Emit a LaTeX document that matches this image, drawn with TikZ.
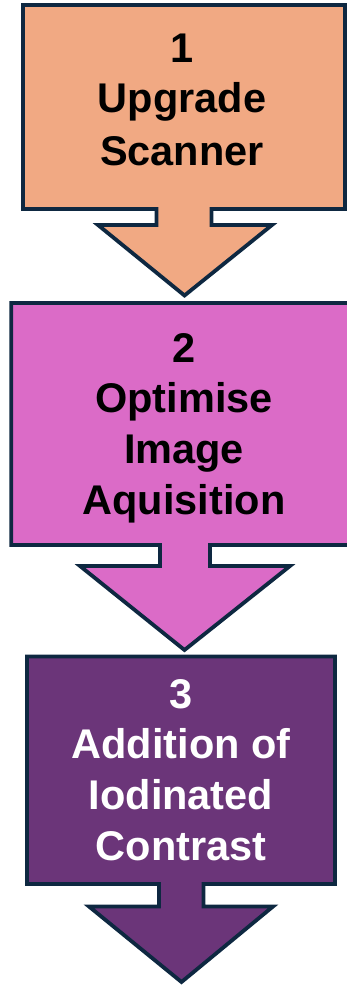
\documentclass[tikz,border=0pt]{standalone}
\usepackage{fontspec}
\setmainfont{Liberation Sans}
\definecolor{bordc}{HTML}{0E2841}
\definecolor{fillA}{HTML}{F1A983}
\definecolor{fillB}{HTML}{DB6BC7}
\definecolor{fillC}{HTML}{6B3579}
\tikzset{
  callout/.style={draw=bordc, line width=3.8pt, line join=miter},
  lbl/.style={anchor=base, inner sep=0pt, font=\fontsize{41.5}{50}\selectfont\bfseries},
}
\begin{document}
\begin{tikzpicture}[x=1pt,y=-1pt]
\useasboundingbox (0,0) rectangle (347,987);
\begin{scope}
\clip (0,0) rectangle (347,987);
% shape 1
\draw[callout, fill=fillA] (23,5) -- (345,5) -- (345,209) -- (211.5,209) -- (211.5,225) -- (272,225)
  -- (184.5,295.5) -- (98,225) -- (156.5,225) -- (156.5,209) -- (23,209) -- cycle;
% shape 2
\draw[callout, fill=fillB] (11.3,303) -- (360,303) -- (360,545) -- (210,545) -- (210,566) -- (290,566)
  -- (184.5,650) -- (80,566) -- (160,566) -- (160,545) -- (11.3,545) -- cycle;
% shape 3
\draw[callout, fill=fillC] (27,656.5) -- (335,656.5) -- (335,884) -- (203.5,884) -- (203.5,906.5) -- (273,906.5)
  -- (181.5,982) -- (89,906.5) -- (159,906.5) -- (159,884) -- (27,884) -- cycle;
\end{scope}
% texts
\node[lbl] (a1) at (182,63) {1};
\node[lbl] (a2) at (182,113) {Upgrade};
\node[lbl] (a3) at (182,166) {Scanner};
\node[lbl] (b1) at (184,362) {2};
\node[lbl] (b2) at (184,412) {Optimise};
\node[lbl] (b3) at (184,463) {Image};
\node[lbl] (b4) at (184,514) {Aquisition};
\node[lbl, text=white] (c1) at (181,708) {3};
\node[lbl, text=white] (c2) at (181,758) {Addition of};
\node[lbl, text=white] (c3) at (181,809) {Iodinated};
\node[lbl, text=white] (c4) at (181,860) {Contrast};
\end{tikzpicture}
\end{document}
